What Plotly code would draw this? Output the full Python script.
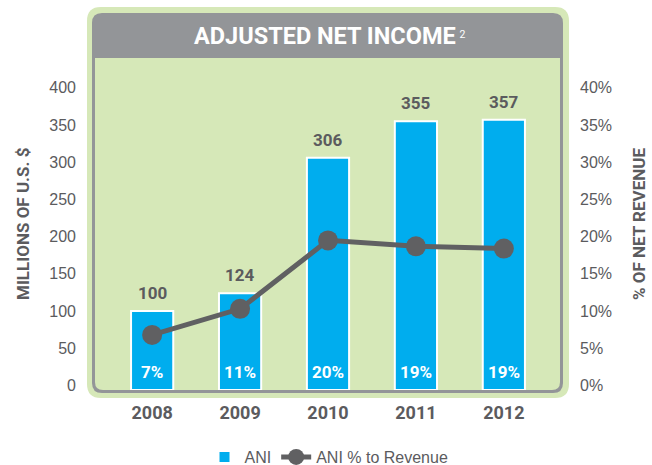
import plotly.graph_objects as go

YEARS = ["2008", "2009", "2010", "2011", "2012"]
ANI = [100, 124, 306, 355, 357]
ANI_PCT = [6.8, 10.3, 19.5, 18.7, 18.4]
PCT_LABELS = ["7%", "11%", "20%", "19%", "19%"]
LEFT_TICKS = [0, 50, 100, 150, 200, 250, 300, 350, 400]
RIGHT_TICKS = [0, 5, 10, 15, 20, 25, 30, 35, 40]

W, H = 652, 465
PL, PR, PT, PB = 95, 561, 58, 390  # plot area in pixels

GREEN = "#d6e8b8"
GREY = "#939598"
TEXT = "#5b5b5e"
BLUE = "#00adee"
LINE = "#606062"
BOLD = "Roboto, sans-serif"
REGULAR = "Liberation Sans, Arial, sans-serif"


def paper(x, y):
    return (x - PL) / (PR - PL), (PB - y) / (PB - PT)


def rounded_rect(x0, y0, x1, y1, rt, rb):
    def p(x, y):
        px, py = paper(x, y)
        return f"{px:.5f},{py:.5f}"

    pts = [
        f"M{p(x0 + rt, y0)}",
        f"L{p(x1 - rt, y0)}",
        f"Q{p(x1, y0)} {p(x1, y0 + rt)}",
        f"L{p(x1, y1 - rb)}",
        f"Q{p(x1, y1)} {p(x1 - rb, y1)}",
        f"L{p(x0 + rb, y1)}",
        f"Q{p(x0, y1)} {p(x0, y1 - rb)}",
        f"L{p(x0, y0 + rt)}",
        f"Q{p(x0, y0)} {p(x0 + rt, y0)}",
    ]
    return " ".join(pts) + " Z"


fig = go.Figure()

fig.add_trace(go.Bar(
    x=YEARS, y=[v + 6 for v in ANI], base=-6, name="ANI",
    marker=dict(color=BLUE, line=dict(color="white", width=2)),
    width=0.48, hoverinfo="skip",
))
fig.add_trace(go.Scatter(
    x=YEARS, y=ANI_PCT, name="ANI % to Revenue", yaxis="y2",
    mode="lines+markers",
    line=dict(color=LINE, width=5),
    marker=dict(color=LINE, size=20),
))

# frame: light green outline, grey header/border, green panel
for path, color in [
    (rounded_rect(87, 7, 569, 398, 14, 14), GREEN),
    (rounded_rect(92, 13, 563, 393, 10, 10), GREY),
    (rounded_rect(95, 58, 560, 390, 0, 8), GREEN),
]:
    fig.add_shape(type="path", path=path, xref="paper", yref="paper",
                  fillcolor=color, line=dict(width=0), layer="below")

annotations = []
tx, ty = paper(329, 36)
annotations.append(dict(
    x=tx, y=ty, xref="paper", yref="paper", showarrow=False,
    xanchor="center", yanchor="middle",
    text="ADJUSTED NET INCOME<span style='font-size:15px;font-weight:normal'> <sup>2</sup></span>",
    font=dict(family=BOLD, size=23.5, color="white", weight="bold"),
))
lx, ly = paper(23, 224)
annotations.append(dict(
    x=lx, y=ly, xref="paper", yref="paper", showarrow=False, textangle=-90,
    xanchor="center", yanchor="middle",
    text="MILLIONS OF U.S. $",
    font=dict(family=BOLD, size=17, color=TEXT, weight="bold"),
))
rx, ry = paper(639, 224)
annotations.append(dict(
    x=rx, y=ry, xref="paper", yref="paper", showarrow=False, textangle=-90,
    xanchor="center", yanchor="middle",
    text="% OF NET REVENUE",
    font=dict(family=BOLD, size=17, color=TEXT, weight="bold"),
))
for i, v in enumerate(ANI):
    annotations.append(dict(
        x=i, y=v, xref="x", yref="y", showarrow=False, yanchor="middle", yshift=18,
        text=str(v), font=dict(family=BOLD, size=17, color=TEXT, weight="bold"),
    ))
for i, lab in enumerate(PCT_LABELS):
    annotations.append(dict(
        x=i, y=0, xref="x", yref="y", showarrow=False, yanchor="middle", yshift=14,
        text=lab, font=dict(family=BOLD, size=17, color="white", weight="bold"),
    ))

lgx, lgy = paper(329, 457)
fig.update_layout(
    width=W, height=H,
    margin=dict(l=PL, r=W - PR, t=PT, b=H - PB, pad=0, autoexpand=False),
    paper_bgcolor="white", plot_bgcolor="rgba(0,0,0,0)",
    showlegend=True,
    legend=dict(orientation="h", x=lgx, y=lgy, xanchor="center", yanchor="middle",
                font=dict(family=REGULAR, size=16, color=TEXT),
                bgcolor="rgba(0,0,0,0)"),
    xaxis=dict(type="category", range=[-0.65, 4.65], showgrid=False, zeroline=False,
               showline=False, ticks="", ticklabelstandoff=10,
               tickfont=dict(family=BOLD, size=18, color=TEXT, weight="bold")),
    yaxis=dict(range=[-6, 440], tickvals=LEFT_TICKS, showgrid=False, zeroline=False,
               showline=False, ticks="", ticklabelstandoff=18,
               tickfont=dict(family=REGULAR, size=16, color=TEXT)),
    yaxis2=dict(range=[-0.6, 44], tickvals=RIGHT_TICKS,
                ticktext=[f"{t}%" for t in RIGHT_TICKS], overlaying="y",
                side="right", showgrid=False, zeroline=False, showline=False, ticks="",
                ticklabelstandoff=18,
                tickfont=dict(family=REGULAR, size=16, color=TEXT)),
    annotations=annotations,
    hovermode=False,
)

fig.write_html("out.html", config={"displayModeBar": False},
               post_script="document.body.style.margin='0';")
